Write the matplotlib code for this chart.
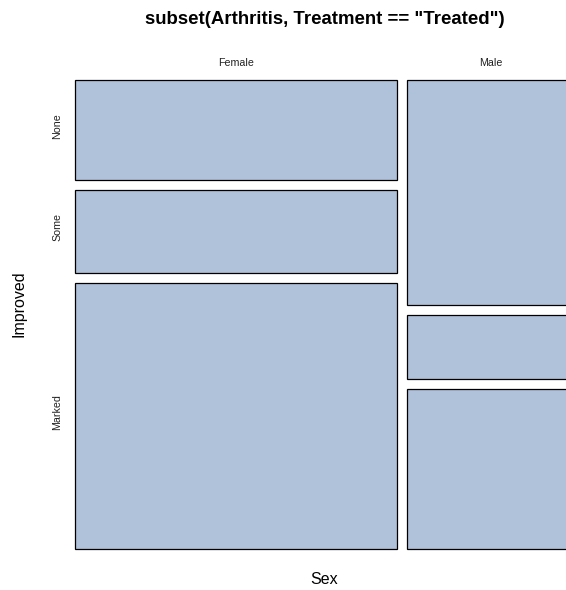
import matplotlib
matplotlib.use("Agg")
import matplotlib.pyplot as plt
from matplotlib.patches import Rectangle

plt.rcParams['font.family'] = ['Liberation Sans', 'DejaVu Sans']

# Arthritis data, Treatment == "Treated"
sexes = ["Female", "Male"]
improved = ["None", "Some", "Marked"]
counts = {
    "Female": [6, 5, 16],
    "Male": [7, 2, 5],
}

fill = "#B0C1DA"

fig = plt.figure(figsize=(5.66, 5.90), dpi=100)
ax = fig.add_axes([0, 0, 1, 1])
ax.set_xlim(0, 566)
ax.set_ylim(590, 0)
ax.axis("off")

# plotting region (pixel-like units) and spacing between tiles
x_left, x_right = 75, 574
y_top, y_bottom = 80, 549
gap = 10

totals = [sum(counts[s]) for s in sexes]
grand = sum(totals)
usable_w = (x_right - x_left) - gap * (len(sexes) - 1)

x = x_left
for s, tot in zip(sexes, totals):
    w = usable_w * tot / grand
    usable_h = (y_bottom - y_top) - gap * (len(improved) - 1)
    y = y_top
    for lvl, c in zip(improved, counts[s]):
        h = usable_h * c / tot
        ax.add_patch(Rectangle((x, y), w, h, facecolor=fill,
                               edgecolor="black", linewidth=0.9))
        if s == sexes[0]:
            ax.text(57, y + h / 2 - 4, lvl, rotation=90, ha="center",
                    va="center", fontsize=7.7, color="#222222")
        y += h + gap
    ax.text(x + w / 2, 63, s, ha="center", va="center", fontsize=7.7,
            color="#222222")
    x += w + gap

xc = (x_left + x_right) / 2
ax.text(xc, 19, 'subset(Arthritis, Treatment == "Treated")', ha="center",
        va="center", fontsize=13.4, fontweight="bold")
ax.text(xc, 580, "Sex", ha="center", va="center", fontsize=11.5)
ax.text(19, 304, "Improved", rotation=90, ha="center", va="center",
        fontsize=11.5)

fig.savefig("out.png", dpi=100)
